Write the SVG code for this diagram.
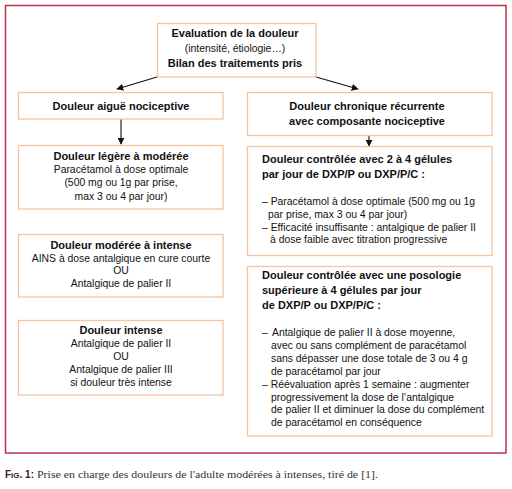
<svg xmlns="http://www.w3.org/2000/svg" width="512" height="489" viewBox="0 0 512 489">
<defs>
<style>
.frame{fill:none;stroke:#c0304a;stroke-width:1.5}
.box{fill:#fff;stroke:#f8c29e;stroke-width:1.3}
text{font-family:"Liberation Sans",Arial,sans-serif;fill:#111}
.b{font-size:11px;font-weight:bold}
.r{font-size:10.4px}
.c{text-anchor:middle}
.conn{stroke:#111;stroke-width:1.1;fill:none;marker-end:url(#ah)}
.cap{font-family:"Liberation Serif","Times New Roman",serif;font-size:10.5px;fill:#333}
.fig{font-family:"Liberation Sans",Arial,sans-serif;font-weight:bold;font-size:10px;fill:#3a1a20}
</style>
<marker id="ah" viewBox="0 0 10 10" refX="9" refY="5" markerWidth="7" markerHeight="7" orient="auto" markerUnits="userSpaceOnUse">
<path d="M0,0 L10,5 L0,10 z" fill="#111"/>
</marker>
</defs>
<rect class="frame" x="5.5" y="5.5" width="500.5" height="447.5"/>

<g id="connectors">
<line class="conn" x1="157" y1="77" x2="117" y2="89"/>
<line class="conn" x1="316" y1="77" x2="358" y2="89"/>
<line class="conn" x1="121" y1="119" x2="121" y2="144"/>
<line class="conn" x1="369" y1="136" x2="369" y2="146"/>
</g>

<g id="n-eval">
<rect class="box" x="157.5" y="23.5" width="158.5" height="53.5"/>
<text class="b c" x="235" y="37">Evaluation de la douleur</text>
<text class="r c" x="235" y="52">(intensité, étiologie…)</text>
<text class="b c" x="235" y="67">Bilan des traitements pris</text>
</g>

<g id="n-aigue">
<rect class="box" x="18.5" y="92.5" width="204.5" height="26.5"/>
<text class="b c" x="121" y="110">Douleur aiguë nociceptive</text>
</g>

<g id="n-chronique">
<rect class="box" x="247.5" y="92.5" width="244.5" height="43"/>
<text class="b c" x="367" y="110">Douleur chronique récurrente</text>
<text class="b c" x="367" y="125">avec composante nociceptive</text>
</g>

<g id="n-legere">
<rect class="box" x="18.5" y="145.5" width="204.5" height="63.5"/>
<text class="b c" x="121" y="160">Douleur légère à modérée</text>
<text class="r c" x="121" y="173">Paracétamol à dose optimale</text>
<text class="r c" x="121" y="186">(500 mg ou 1g par prise,</text>
<text class="r c" x="121" y="200">max 3 ou 4 par jour)</text>
</g>

<g id="n-moderee">
<rect class="box" x="18.5" y="234.5" width="204.5" height="62.5"/>
<text class="b c" x="121" y="249">Douleur modérée à intense</text>
<text class="r c" x="121" y="262">AINS à dose antalgique en cure courte</text>
<text class="r c" x="121" y="274">OU</text>
<text class="r c" x="121" y="287">Antalgique de palier II</text>
</g>

<g id="n-intense">
<rect class="box" x="18.5" y="320.5" width="204.5" height="74.5"/>
<text class="b c" x="121" y="334">Douleur intense</text>
<text class="r c" x="121" y="347">Antalgique de palier II</text>
<text class="r c" x="121" y="360">OU</text>
<text class="r c" x="121" y="373">Antalgique de palier III</text>
<text class="r c" x="121" y="386">si douleur très intense</text>
</g>

<g id="n-controlee-2-4">
<rect class="box" x="247.5" y="146.5" width="244.5" height="109"/>
<text class="b" x="262" y="163">Douleur contrôlée avec 2 à 4 gélules</text>
<text class="b" x="262" y="178">par jour de DXP/P ou DXP/P/C :</text>
<text class="r" x="262" y="205">– Paracétamol à dose optimale (500 mg ou 1g</text>
<text class="r" x="268" y="218">par prise, max 3 ou 4 par jour)</text>
<text class="r" x="262" y="231">– Efficacité insuffisante : antalgique de palier II</text>
<text class="r" x="270" y="243">à dose faible avec titration progressive</text>
</g>

<g id="n-controlee-sup4">
<rect class="box" x="247.5" y="266.5" width="244.5" height="169.5"/>
<text class="b" x="262" y="279">Douleur contrôlée avec une posologie</text>
<text class="b" x="262" y="294">supérieure à 4 gélules par jour</text>
<text class="b" x="262" y="309">de DXP/P ou DXP/P/C :</text>
<text class="r" x="262" y="336">– <tspan x="272">Antalgique de palier II à dose moyenne,</tspan></text>
<text class="r" x="271" y="349">avec ou sans complément de paracétamol</text>
<text class="r" x="271" y="362">sans dépasser une dose totale de 3 ou 4 g</text>
<text class="r" x="271" y="375">de paracétamol par jour</text>
<text class="r" x="262" y="388">– Réévaluation après 1 semaine : augmenter</text>
<text class="r" x="271" y="401">progressivement la dose de l’antalgique</text>
<text class="r" x="271" y="413">de palier II et diminuer la dose du complément</text>
<text class="r" x="271" y="426">de paracétamol en conséquence</text>
</g>

<text class="fig" x="5" y="478">F<tspan font-size="8px">IG</tspan>. 1:</text>
<text class="cap" x="37" y="478" textLength="341" lengthAdjust="spacingAndGlyphs">Prise en charge des douleurs de l'adulte modérées à intenses, tiré de [1].</text>
</svg>
